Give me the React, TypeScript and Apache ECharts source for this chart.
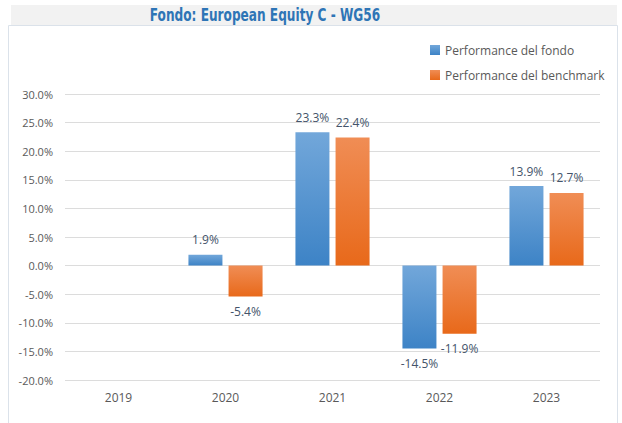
import React, { useEffect, useRef } from "react";
import * as echarts from "echarts";

const categories = ["2019", "2020", "2021", "2022", "2023"];
const fondo: (number | null)[] = [null, 1.9, 23.3, -14.5, 13.9];
const benchmark: (number | null)[] = [null, -5.4, 22.4, -11.9, 12.7];
const seriesNames = ["Performance del fondo", "Performance del benchmark"];
const titleText = "Fondo: European Equity C - WG56";

const toItems = (arr: (number | null)[]) =>
  arr.map((v) =>
    v === null
      ? { value: null }
      : { value: v, label: { position: v < 0 ? "bottom" : "top" } }
  );

const grad = (top: string, bottom: string) =>
  new echarts.graphic.LinearGradient(0, 0, 0, 1, [
    { offset: 0, color: top },
    { offset: 1, color: bottom },
  ]);

export default function App() {
  const ref = useRef<HTMLDivElement>(null);
  useEffect(() => {
    if (!ref.current) return;
    const chart = echarts.init(ref.current, null, { renderer: "svg" });
    const labelStyle = {
      show: true,
      distance: 9,
      fontSize: 12,
      color: "#44546a",
      fontFamily: "'Open Sans', 'Noto Sans', sans-serif",
      formatter: (p: any) => (p.value == null ? "" : p.value.toFixed(1) + "%"),
    };
    chart.setOption({
      animation: false,
      backgroundColor: "#ffffff",
      graphic: [
        {
          type: "rect",
          shape: { x: 11, y: 5, width: 606, height: 20 },
          style: { fill: "#f2f2f2" },
          silent: true,
        },
        {
          type: "rect",
          shape: { x: 8.5, y: 25.5, width: 609, height: 410 },
          style: { fill: "none", stroke: "#dbe2ea", lineWidth: 1 },
          silent: true,
        },
        {
          type: "text",
          x: 265,
          y: 15,
          scaleX: 0.75,
          style: {
            text: titleText,
            fill: "#2e75b6",
            fontSize: 18,
            fontWeight: "bold",
            fontFamily: "'Liberation Sans Narrow', 'DejaVu Sans Condensed', sans-serif",
            align: "center",
            verticalAlign: "middle",
          },
        },
      ],
      legend: {
        orient: "vertical",
        left: 425,
        top: 38,
        itemWidth: 10,
        itemHeight: 10,
        itemGap: 11,
        icon: "rect",
        data: seriesNames,
        textStyle: {
          color: "#595959",
          fontSize: 12,
          lineHeight: 14,
          fontFamily: "'Open Sans', 'Noto Sans', sans-serif",
        },
        itemStyle: { borderWidth: 0 },
      },
      grid: { left: 65, right: 22, top: 94, bottom: 43 },
      xAxis: {
        type: "category",
        data: categories,
        axisLine: { show: false },
        axisTick: { show: false },
        axisLabel: {
          color: "#595959",
          fontSize: 12,
          margin: 11,
          fontFamily: "'Open Sans', 'Noto Sans', sans-serif",
        },
      },
      yAxis: {
        type: "value",
        min: -20,
        max: 30,
        interval: 5,
        axisLine: { show: false },
        axisTick: { show: false },
        splitLine: { lineStyle: { color: "#dcdcdc", width: 1 } },
        axisLabel: {
          color: "#595959",
          fontSize: 11,
          margin: 12,
          fontFamily: "'Open Sans', 'Noto Sans', sans-serif",
          formatter: (v: number) => v.toFixed(1) + "%",
        },
      },
      series: [
        {
          name: seriesNames[0],
          type: "bar",
          data: toItems(fondo),
          barWidth: 34,
          barGap: "18%",
          itemStyle: { color: grad("#72a7da", "#3d83c6") },
          label: labelStyle,
        },
        {
          name: seriesNames[1],
          type: "bar",
          data: toItems(benchmark),
          barWidth: 34,
          itemStyle: { color: grad("#f08d55", "#e8691a") },
          label: labelStyle,
        },
      ],
    });
    return () => chart.dispose();
  }, []);
  return <div ref={ref} style={{ width: 622, height: 423, position: "absolute", left: 0, top: 0 }} />;
}
